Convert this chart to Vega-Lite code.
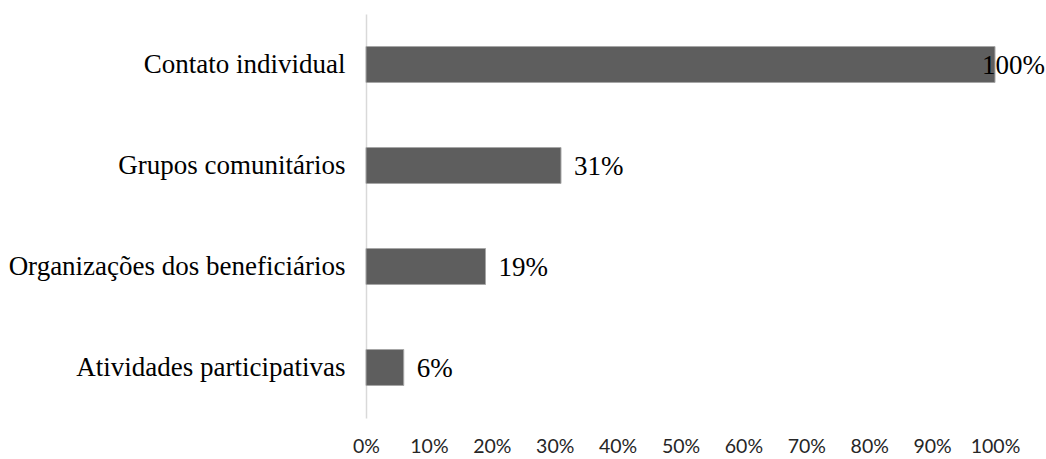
{
  "$schema": "https://vega.github.io/schema/vega-lite/v6.json",
  "autosize": {"type": "none"},
  "padding": {"left": 366, "top": 14, "right": 51, "bottom": 41},
  "width": 629,
  "height": 404,
  "background": "white",
  "config": {"view": {"stroke": null}},
  "data": {"values": [
    {"categoria": "Contato individual", "valor": 1.00},
    {"categoria": "Grupos comunitários", "valor": 0.31},
    {"categoria": "Organizações dos beneficiários", "valor": 0.19},
    {"categoria": "Atividades participativas", "valor": 0.06}
  ]},
  "encoding": {
    "y": {"field": "categoria", "type": "nominal", "sort": null,
      "scale": {"paddingInner": 0.644, "paddingOuter": 0.322},
      "axis": {"title": null, "ticks": false, "domainColor": "#d9d9d9", "domainWidth": 1.5,
        "labelFont": "Liberation Serif", "labelFontSize": 27, "labelColor": "#000000",
        "labelPadding": 21, "labelLimit": 400}},
    "x": {"field": "valor", "type": "quantitative",
      "scale": {"domain": [0, 1], "nice": false},
      "axis": {"title": null, "domain": false, "ticks": false, "grid": false,
        "values": [0, 0.1, 0.2, 0.3, 0.4, 0.5, 0.6, 0.7, 0.8, 0.9, 1.0],
        "format": ".0%", "labelFont": "Lato", "labelFontSize": 19.5,
        "labelColor": "#262626", "labelPadding": 19, "labelFlush": false}}
  },
  "layer": [
    {"mark": {"type": "bar", "color": "#5e5e5e", "stroke": "#a6a6a6", "strokeWidth": 1}},
    {"transform": [{"filter": "datum.valor < 1"}],
      "mark": {"type": "text", "align": "left", "baseline": "middle", "dx": 13, "dy": 1,
        "font": "Liberation Serif", "fontSize": 27, "color": "#000000"},
      "encoding": {"text": {"field": "valor", "type": "quantitative", "format": ".0%"}}},
    {"transform": [{"filter": "datum.valor >= 1"}],
      "mark": {"type": "text", "align": "left", "baseline": "middle", "dx": -13, "dy": 1,
        "font": "Liberation Serif", "fontSize": 27, "color": "#000000"},
      "encoding": {"text": {"field": "valor", "type": "quantitative", "format": ".0%"}}}
  ]
}
